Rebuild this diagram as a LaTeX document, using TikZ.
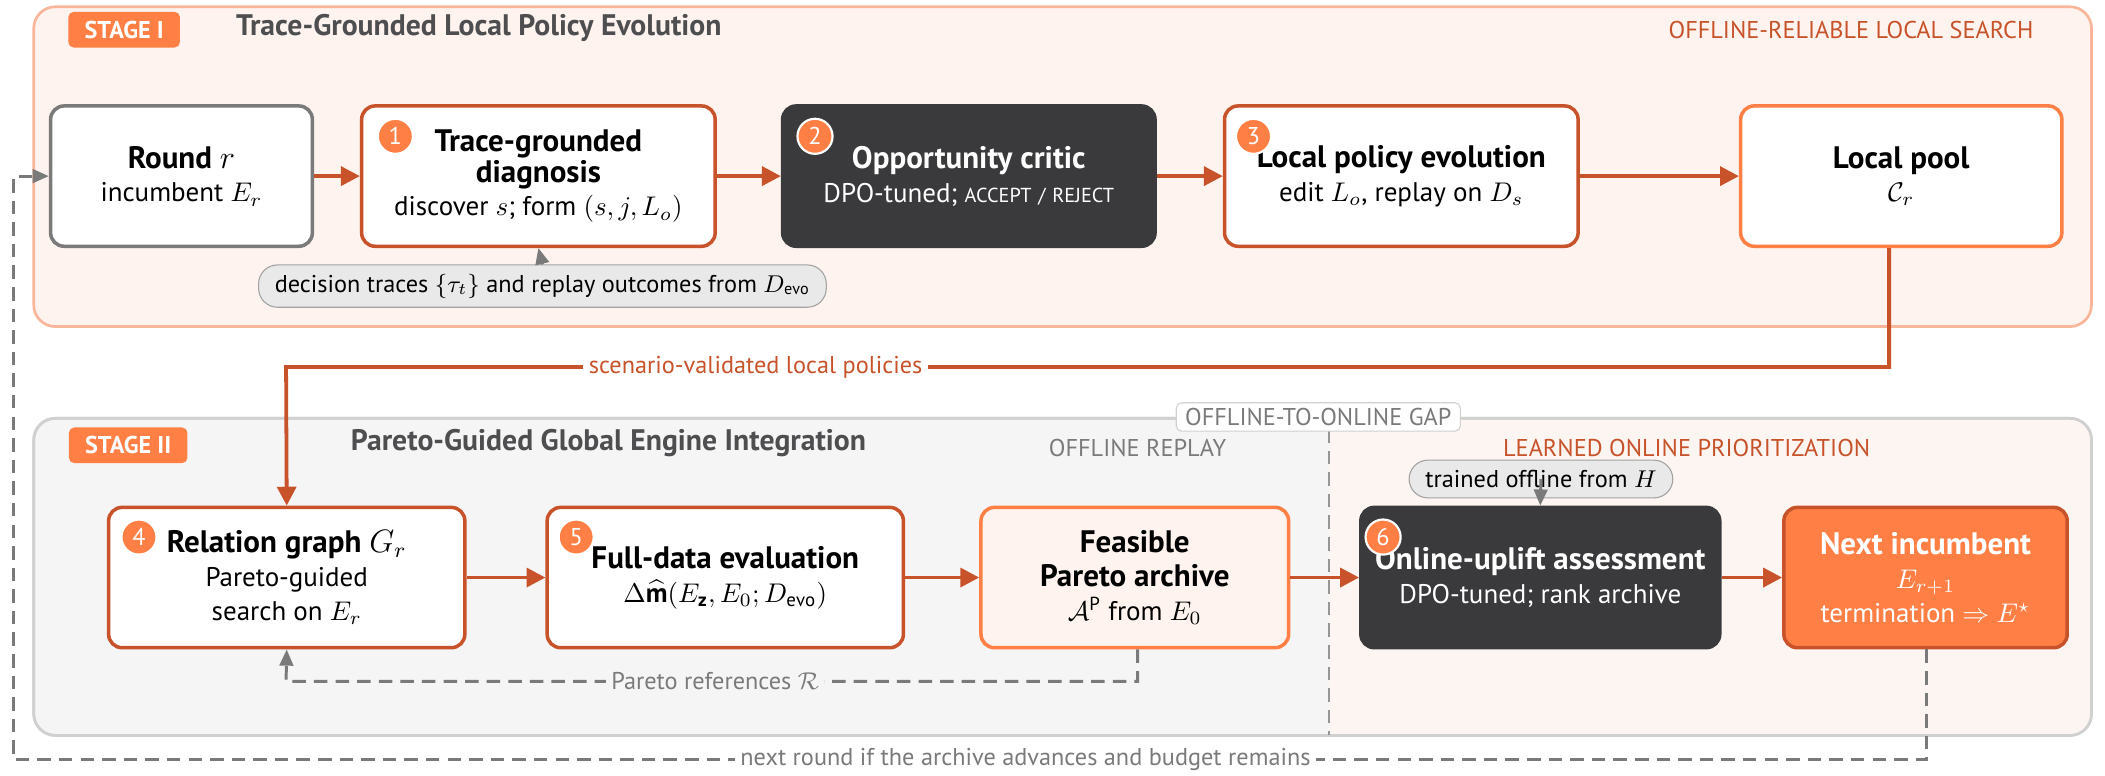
\documentclass[tikz,border=0pt]{standalone}
\usepackage{fontspec}
\usepackage{amsmath,amssymb}
\setmainfont{PT Sans}
\usetikzlibrary{arrows.meta,positioning}
\definecolor{org}{HTML}{FF7F45}
\definecolor{dorg}{HTML}{C8522A}
\definecolor{lbord}{HTML}{F9B69A}
\definecolor{peach}{HTML}{FEF3EE}
\definecolor{peach2}{HTML}{FDF5F1}
\definecolor{dark}{HTML}{3A3A3C}
\definecolor{gr}{HTML}{7A7A7A}
\definecolor{lgr}{HTML}{D0D0D0}
\definecolor{bgg}{HTML}{F5F5F5}
\begin{document}
\begin{tikzpicture}[x=0.5pt,y=-0.5pt,
  box/.style={draw=dorg,line width=1.3pt,rounded corners=5pt,fill=white,align=center,inner sep=2pt,font=\fontsize{10}{12.5}\selectfont},
  badge/.style={circle,fill=org,draw=white,line width=0.8pt,text=white,inner sep=0pt,minimum size=13pt,font=\fontsize{9}{10}\selectfont},
  stg/.style={fill=org,rounded corners=2pt,text=white,font=\bfseries\fontsize{9}{10}\selectfont,inner xsep=6pt,minimum height=12pt},
  stitle/.style={text=dark!90,font=\bfseries\fontsize{11}{12}\selectfont,anchor=west},
  lab/.style={font=\fontsize{9}{10}\selectfont},
  pill/.style={draw=gr!70,fill=bgg!90!gr,rounded corners=7pt,inner xsep=6pt,minimum height=14pt,font=\fontsize{9}{10}\selectfont},
  oarr/.style={draw=dorg,line width=1.4pt,-{Triangle[length=7pt,width=7pt]}},
  garr/.style={draw=gr,line width=1.1pt,dash pattern=on 5pt off 3pt},
]
\useasboundingbox (0,0) rectangle (1560,575);
% Stage I background
\draw[lbord,fill=peach,line width=1pt,rounded corners=8pt] (25,5) rectangle (1550,242);
\node[stg] (s1) at (92,22) {STAGE I};
\node[stitle] (t1) at (168,21) {Trace-Grounded Local Policy Evolution};
\node[lab,text=dorg,anchor=east] (o1) at (1514,22) {OFFLINE-RELIABLE LOCAL SEARCH};
% Stage II background
\draw[lgr,fill=bgg,line width=1pt,rounded corners=8pt] (25,310) rectangle (1550,545);
\begin{scope}
\clip[rounded corners=8pt] (25,310) rectangle (1550,545);
\fill[peach2] (985,311) rectangle (1549,544);
\end{scope}
\draw[lgr,line width=1pt,rounded corners=8pt] (25,310) rectangle (1550,545);
\draw[gr!80,line width=0.9pt,dash pattern=on 5pt off 3pt] (985,318) -- (985,545);
\node[draw=lgr,fill=white,rounded corners=2pt,lab,text=gr,inner ysep=2pt] (gap) at (977,309) {OFFLINE-TO-ONLINE GAP};
\node[stg] (s2) at (95,330) {STAGE II};
\node[stitle] (t2) at (253,328) {Pareto-Guided Global Engine Integration};
\node[lab,text=gr] (o2) at (843,332) {OFFLINE REPLAY};
\node[lab,text=dorg] (o3) at (1250,332) {LEARNED ONLINE PRIORITIZATION};
% Row 1
\node[box,draw=gr,minimum width=97pt,minimum height=52pt] (n0) at (134.5,130.5) {{\bfseries\fontsize{11.5}{13}\selectfont Round $r$}\\ incumbent $E_r$};
\node[box,minimum width=131pt,minimum height=52pt] (n1) at (399,130.5) {{\bfseries\fontsize{11.5}{13}\selectfont Trace-grounded}\\[-1pt]{\bfseries\fontsize{11.5}{13}\selectfont diagnosis}\\ discover $s$; form $(s,j,L_o)$};
\node[box,draw=dark,fill=dark,text=white,minimum width=138pt,minimum height=52pt] (n2) at (718,130.5) {{\bfseries\fontsize{11.5}{13}\selectfont Opportunity critic}\\ DPO-tuned; {\fontsize{7.5}{9}\selectfont ACCEPT\,\,/\,\,REJECT}};
\node[box,minimum width=131pt,minimum height=52pt] (n3) at (1038.5,130.5) {{\bfseries\fontsize{11.5}{13}\selectfont Local policy evolution}\\ edit $L_o$, replay on $D_s$};
\node[box,draw=org,fill=white,minimum width=119pt,minimum height=52pt] (n4) at (1409,130.5) {{\bfseries\fontsize{11.5}{13}\selectfont Local pool}\\ $\mathcal{C}_r$};
\node[badge] (b1) at (293,101) {1};
\node[badge] (b2) at (604,101) {2};
\node[badge] (b3) at (929,101) {3};
\draw[oarr] (n0) -- (n1);
\draw[oarr] (n1) -- (n2);
\draw[oarr] (n2) -- (n3);
\draw[oarr] (n3) -- (n4);
\node[pill] (p1) at (402,212) {decision traces $\{\tau_t\}$ and replay outcomes from $D_{\mathrm{evo}}$};
\draw[gr,line width=1.1pt,-{Triangle[length=6pt,width=5pt]}] (p1.north) -- (n1.south);
% Row 2
\node[box,minimum width=132pt,minimum height=52pt] (m1) at (212.5,428) {{\bfseries\fontsize{11.5}{13}\selectfont Relation graph $G_r$}\\ Pareto-guided\\ search on $E_r$};
\node[box,minimum width=132pt,minimum height=52pt] (m2) at (537.5,428) {{\bfseries\fontsize{11.5}{13}\selectfont Full-data evaluation}\\ $\Delta\widehat{\mathbf{m}}(E_{\mathbf{z}},E_0;D_{\mathrm{evo}})$};
\node[box,draw=org,fill=peach,minimum width=114pt,minimum height=52pt] (m3) at (841,428) {{\bfseries\fontsize{11.5}{13}\selectfont Feasible}\\{\bfseries\fontsize{11.5}{13}\selectfont Pareto archive}\\ $\mathcal{A}^{\mathrm{P}}$ from $E_0$};
\node[box,draw=dark,fill=dark,text=white,minimum width=133pt,minimum height=52pt] (m4) at (1141.5,428) {{\bfseries\fontsize{11.5}{13}\selectfont Online-uplift assessment}\\ DPO-tuned; rank archive};
\node[box,fill=org,text=white,minimum width=105pt,minimum height=52pt] (m5) at (1427,428) {{\bfseries\fontsize{11.5}{13}\selectfont Next incumbent}\\ $E_{r+1}$\\ termination $\Rightarrow$ $E^\star$};
\node[badge] (b4) at (103,398) {4};
\node[badge] (b5) at (427,398) {5};
\node[badge] (b6) at (1025,398) {6};
\draw[oarr] (m1) -- (m2);
\draw[oarr] (m2) -- (m3);
\draw[oarr] (m3) -- (m4);
\draw[oarr] (m4) -- (m5);
\node[pill] (p2) at (1142,355) {trained offline from $H$};
\draw[gr,line width=1.1pt,-{Triangle[length=6pt,width=5pt]}] (p2.center) -- (m4.north);
% Connector stage I -> II
\coordinate (c1) at (1400,272);
\coordinate (c2) at (212,272);
\draw[oarr] (n4.south -| c1) -- (c1) -- (c2) -- (m1.north);
\node[fill=white,lab,text=dorg,inner sep=2pt] (l1) at (560,272) {scenario-validated local policies};
% Pareto references
\coordinate (d1) at (843,505);
\coordinate (d2) at (212,505);
\draw[garr,-{Triangle[length=6pt,width=5pt]}] (m3.south -| d1) -- (d1) -- (d2) -- (m1.south);
\node[fill=bgg,lab,text=gr,inner sep=2pt] (l2) at (530,505) {Pareto references $\mathcal{R}$};
% Next round
\coordinate (e1) at (1428,563);
\coordinate (e2) at (10,563);
\coordinate (e3) at (10,130.5);
\draw[garr,-{Triangle[length=6pt,width=5pt]}] (m5.south -| e1) -- (e1) -- (e2) -- (e3) -- (n0.west);
\node[fill=white,lab,text=gr,inner sep=2pt] (l3) at (760,563) {next round if the archive advances and budget remains};
\end{tikzpicture}
\end{document}
